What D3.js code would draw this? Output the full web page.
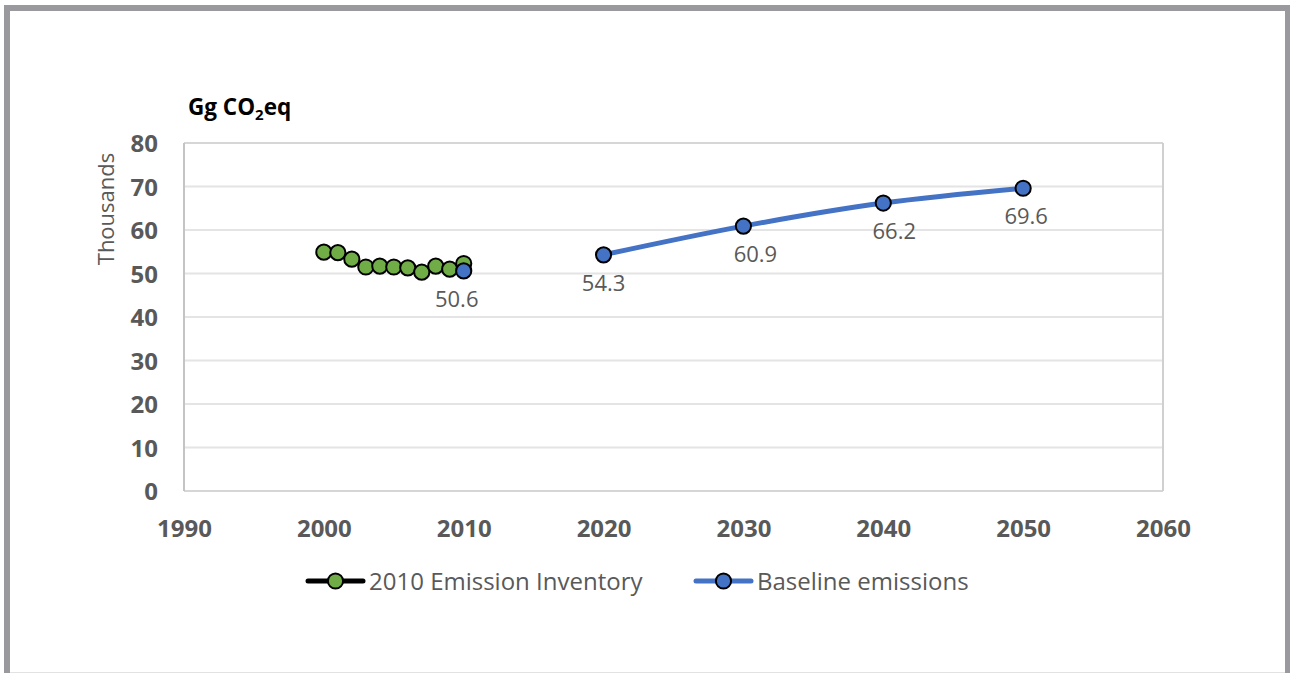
<!DOCTYPE html>
<html>
<head>
<meta charset="utf-8">
<script src="https://cdn.jsdelivr.net/npm/d3@7"></script>
<style>
  html, body { margin: 0; padding: 0; background: #fff; }
  svg { display: block; }
</style>
</head>
<body>
<svg id="chart" width="1290" height="673"></svg>
<script>
// Emission inventory, 2000–2010 (thousand Gg CO2eq)
const inventoryYears  = [2000, 2001, 2002, 2003, 2004, 2005, 2006, 2007, 2008, 2009, 2010];
const inventoryValues = [54.9, 54.8, 53.3, 51.5, 51.7, 51.5, 51.3, 50.3, 51.7, 51.0, 52.3];

// Baseline emissions scenario (thousand Gg CO2eq)
const baselineYears  = [2010, 2020, 2030, 2040, 2050];
const baselineValues = [50.6, 54.3, 60.9, 66.2, 69.6];
const projectionStart = 2020;

const xTicks = [1990, 2000, 2010, 2020, 2030, 2040, 2050, 2060];
const yTicks = [0, 10, 20, 30, 40, 50, 60, 70, 80];
const seriesNames = ["2010 Emission Inventory", "Baseline emissions"];

// horizontal nudges for the value labels under the baseline points
const labelNudge = { 2010: -7, 2020: 0, 2030: 12, 2040: 11, 2050: 3 };

const GREEN = "#70AD47", BLUE = "#4472C4", TEXT = "#595959";
const FONT = "'Open Sans', 'DejaVu Sans', sans-serif";

const svg = d3.select("#chart");

// outer frame
svg.append("rect")
  .attr("x", 7).attr("y", 8).attr("width", 1281).attr("height", 720)
  .attr("fill", "none").attr("stroke", "#9a9a9e").attr("stroke-width", 6);
svg.append("line")
  .attr("x1", 10).attr("x2", 1285).attr("y1", 672.5).attr("y2", 672.5)
  .attr("stroke", "#e2e2e2").attr("stroke-width", 1);

const plot = { left: 184, right: 1163, top: 143, bottom: 491 };

const x = d3.scaleLinear().domain([1990, 2060]).range([plot.left, plot.right]);
const y = d3.scaleLinear().domain([0, 80]).range([plot.bottom, plot.top]);

// gridlines
svg.append("g")
  .selectAll("line")
  .data(yTicks)
  .join("line")
  .attr("x1", plot.left).attr("x2", plot.right)
  .attr("y1", d => y(d)).attr("y2", d => y(d))
  .attr("stroke", d => (d === 0 || d === 80) ? "#d6d6d6" : "#e4e4e4")
  .attr("stroke-width", 2);

// plot area border on the right and left
svg.append("line")
  .attr("x1", plot.right).attr("x2", plot.right)
  .attr("y1", plot.top).attr("y2", plot.bottom)
  .attr("stroke", "#d0d0d0").attr("stroke-width", 2);
svg.append("line")
  .attr("x1", plot.left).attr("x2", plot.left)
  .attr("y1", plot.top).attr("y2", plot.bottom)
  .attr("stroke", "#c4c4c4").attr("stroke-width", 2);

// axes
const yAxis = svg.append("g")
  .attr("transform", `translate(${plot.left - 26},0)`)
  .call(d3.axisLeft(y).tickValues(yTicks).tickSize(0).tickPadding(0));
yAxis.select(".domain").remove();
yAxis.selectAll("text")
  .attr("font-family", FONT).attr("font-size", 24).attr("font-weight", 700)
  .attr("fill", TEXT).attr("dy", "0.357em");

const xAxis = svg.append("g")
  .attr("transform", `translate(0,${plot.bottom})`)
  .call(d3.axisBottom(x).tickValues(xTicks).tickFormat(d3.format("d")).tickSize(0).tickPadding(0));
xAxis.select(".domain").remove();
xAxis.selectAll("text")
  .attr("font-family", FONT).attr("font-size", 24).attr("font-weight", 700)
  .attr("fill", TEXT).attr("y", 37).attr("dy", "0.357em");

// axis title and unit
svg.append("text")
  .attr("transform", "translate(106,209) rotate(-90)")
  .attr("text-anchor", "middle").attr("dy", "0.357em")
  .attr("font-family", FONT).attr("font-size", 22)
  .attr("fill", TEXT)
  .text("Thousands");

const unit = svg.append("text")
  .attr("x", 188).attr("y", 115)
  .attr("font-family", FONT).attr("font-size", 22.5).attr("font-weight", 700)
  .attr("fill", "#000");
unit.append("tspan").text("Gg CO");
unit.append("tspan").attr("font-size", 15).attr("dy", 5).text("2");
unit.append("tspan").attr("dy", -5).text("eq");

// series
const inventory = inventoryYears.map((yr, i) => ({ year: yr, value: inventoryValues[i] }));
const baseline = baselineYears.map((yr, i) => ({ year: yr, value: baselineValues[i] }));

const line = d3.line()
  .x(d => x(d.year)).y(d => y(d.value))
  .curve(d3.curveCatmullRom.alpha(0.5));

svg.append("path")
  .datum(inventory)
  .attr("d", line)
  .attr("fill", "none").attr("stroke", "#000").attr("stroke-width", 4);

svg.append("path")
  .datum(baseline.filter(d => d.year >= projectionStart))
  .attr("d", line)
  .attr("fill", "none").attr("stroke", BLUE).attr("stroke-width", 5)
  .attr("stroke-linecap", "round");

const R = 7.6;

svg.append("g")
  .selectAll("circle")
  .data(inventory)
  .join("circle")
  .attr("cx", d => x(d.year)).attr("cy", d => y(d.value))
  .attr("r", R).attr("fill", GREEN)
  .attr("stroke", "#000").attr("stroke-width", 2);

svg.append("g")
  .selectAll("circle")
  .data(baseline)
  .join("circle")
  .attr("cx", d => x(d.year)).attr("cy", d => y(d.value))
  .attr("r", R).attr("fill", BLUE)
  .attr("stroke", "#000").attr("stroke-width", 2);

// value labels under the baseline points
svg.append("g")
  .selectAll("text")
  .data(baseline)
  .join("text")
  .attr("x", d => x(d.year) + (labelNudge[d.year] || 0))
  .attr("y", d => y(d.value) + 28)
  .attr("dy", "0.357em")
  .attr("text-anchor", "middle")
  .attr("font-family", FONT).attr("font-size", 22)
  .attr("fill", TEXT)
  .text(d => d3.format(".1f")(d.value));

// legend
const legendItems = [
  { name: seriesNames[0], lineColor: "#000", fill: GREEN, x0: 308 },
  { name: seriesNames[1], lineColor: BLUE, fill: BLUE, x0: 696 }
];
const legendY = 581;
const lg = svg.append("g").selectAll("g").data(legendItems).join("g");
lg.append("line")
  .attr("x1", d => d.x0).attr("x2", d => d.x0 + 55)
  .attr("y1", legendY).attr("y2", legendY)
  .attr("stroke", d => d.lineColor).attr("stroke-width", 5)
  .attr("stroke-linecap", "round");
lg.append("circle")
  .attr("cx", d => d.x0 + 27.5).attr("cy", legendY)
  .attr("r", R).attr("fill", d => d.fill)
  .attr("stroke", "#000").attr("stroke-width", 2);
lg.append("text")
  .attr("x", d => d.x0 + 61).attr("y", legendY)
  .attr("dy", "0.357em")
  .attr("font-family", FONT).attr("font-size", 24)
  .attr("fill", TEXT)
  .text(d => d.name);
</script>
</body>
</html>
